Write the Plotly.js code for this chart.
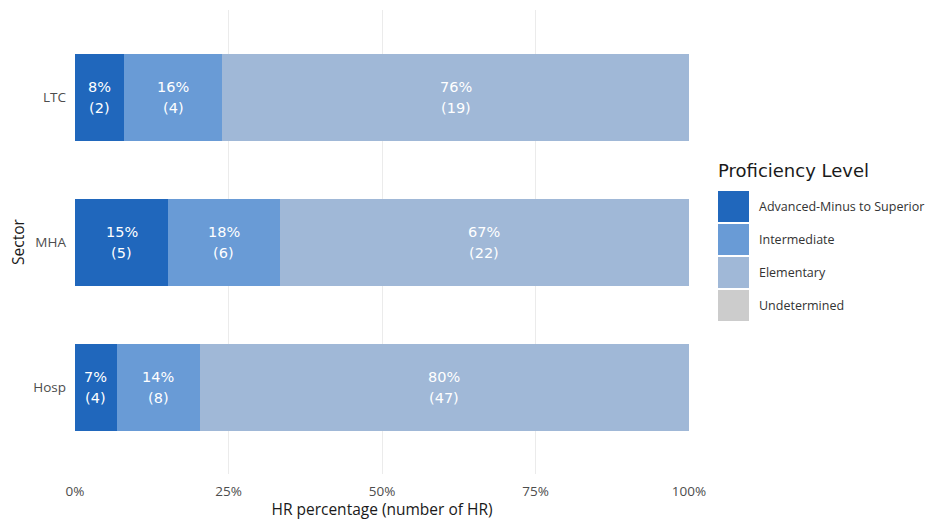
<!DOCTYPE html>
<html>
<head>
<meta charset="utf-8">
<script src="https://cdn.plot.ly/plotly-3.0.1.min.js"></script>
<style>html,body{margin:0;padding:0;background:#fff;}#chart{width:943px;height:520px;}</style>
</head>
<body>
<div id="chart"></div>
<script>
// ---- data ----
const sectors = ['Hosp', 'MHA', 'LTC'];
const levels = ['Advanced-Minus to Superior', 'Intermediate', 'Elementary', 'Undetermined'];
const countsAdvanced = [4, 5, 2];
const countsIntermediate = [8, 6, 4];
const countsElementary = [47, 22, 19];
const countsUndetermined = [0, 0, 0];
const levelColors = ['#2067bc', '#699bd6', '#a0b8d7', '#cccccc'];
const xTickVals = [0, 25, 50, 75, 100];
const xTickText = ['0%', '25%', '50%', '75%', '100%'];

// ---- build ----
const allCounts = [countsAdvanced, countsIntermediate, countsElementary, countsUndetermined];
const totals = sectors.map((s, i) => allCounts.reduce((a, c) => a + c[i], 0));
const labelFont = 'DejaVu Sans, sans-serif';
const axisFont = 'Open Sans, sans-serif';

const annotations = [];
const cum = sectors.map(() => 0);
const traces = allCounts.map((counts, k) => {
  const pct = counts.map((c, i) => 100 * c / totals[i]);
  counts.forEach((c, i) => {
    if (c > 0) {
      const mid = cum[i] + pct[i] / 2;
      annotations.push({x: mid, y: sectors[i], xref: 'x', yref: 'y', text: Math.round(pct[i]) + '%',
        showarrow: false, yshift: 10.5, font: {family: labelFont, size: 14.5, color: '#ffffff'}});
      annotations.push({x: mid, y: sectors[i], xref: 'x', yref: 'y', text: '(' + c + ')',
        showarrow: false, yshift: -10.5, font: {family: labelFont, size: 14.5, color: '#ffffff'}});
    }
    cum[i] += pct[i];
  });
  return {
    type: 'bar',
    orientation: 'h',
    name: levels[k],
    y: sectors,
    x: pct,
    marker: {color: levelColors[k], line: {width: 0}},
    hoverinfo: 'skip',
    showlegend: false
  };
});

// plot area geometry (pixels)
const W = 943, H = 520;
const L = 75, R = 689, T = 10, B = 474;
const px = x => (x - L) / (R - L);
const py = y => (B - y) / (B - T);

const shapes = [];
annotations.push({
  xref: 'paper', yref: 'paper', x: px(716), y: py(170), xanchor: 'left', yanchor: 'middle',
  text: 'Proficiency Level', showarrow: false,
  font: {family: labelFont, size: 18, color: '#1a1a1a'}
});
levels.forEach((lv, k) => {
  const y0 = 191 + k * 33;
  shapes.push({
    type: 'rect', xref: 'paper', yref: 'paper', layer: 'above',
    x0: px(718), x1: px(749), y0: py(y0 + 31), y1: py(y0),
    fillcolor: levelColors[k], line: {width: 0}
  });
  annotations.push({
    xref: 'paper', yref: 'paper', x: px(757), y: py(y0 + 15.5), xanchor: 'left', yanchor: 'middle',
    text: lv, showarrow: false,
    font: {family: axisFont, size: 12.5, color: '#333333'}
  });
});

const layout = {
  width: W, height: H,
  margin: {l: L, r: W - R, t: T, b: H - B, pad: 0},
  paper_bgcolor: '#ffffff', plot_bgcolor: '#ffffff',
  barmode: 'stack',
  bargap: 0.4,
  showlegend: false,
  xaxis: {
    range: [0, 100], tickvals: xTickVals, ticktext: xTickText,
    showgrid: true, gridcolor: '#ebebeb', gridwidth: 1, zeroline: false,
    showline: false, ticks: '', ticklen: 0, ticklabelstandoff: 7,
    tickfont: {family: axisFont, size: 13.5, color: '#4d4d4d'},
    title: {text: 'HR percentage (number of HR)', standoff: 0, font: {family: axisFont, size: 15.5, color: '#1a1a1a'}},
    automargin: false
  },
  yaxis: {
    type: 'category', categoryorder: 'array', categoryarray: sectors,
    range: [-0.6, 2.6], showgrid: false, zeroline: false, showline: false,
    ticks: '', ticklen: 0, ticklabelstandoff: 8,
    tickfont: {family: axisFont, size: 13.5, color: '#4d4d4d'},
    title: {text: 'Sector', standoff: 4, font: {family: axisFont, size: 15.5, color: '#1a1a1a'}},
    automargin: false
  },
  shapes: shapes,
  annotations: annotations
};

Plotly.newPlot('chart', traces, layout, {displayModeBar: false, staticPlot: true});
</script>
</body>
</html>
